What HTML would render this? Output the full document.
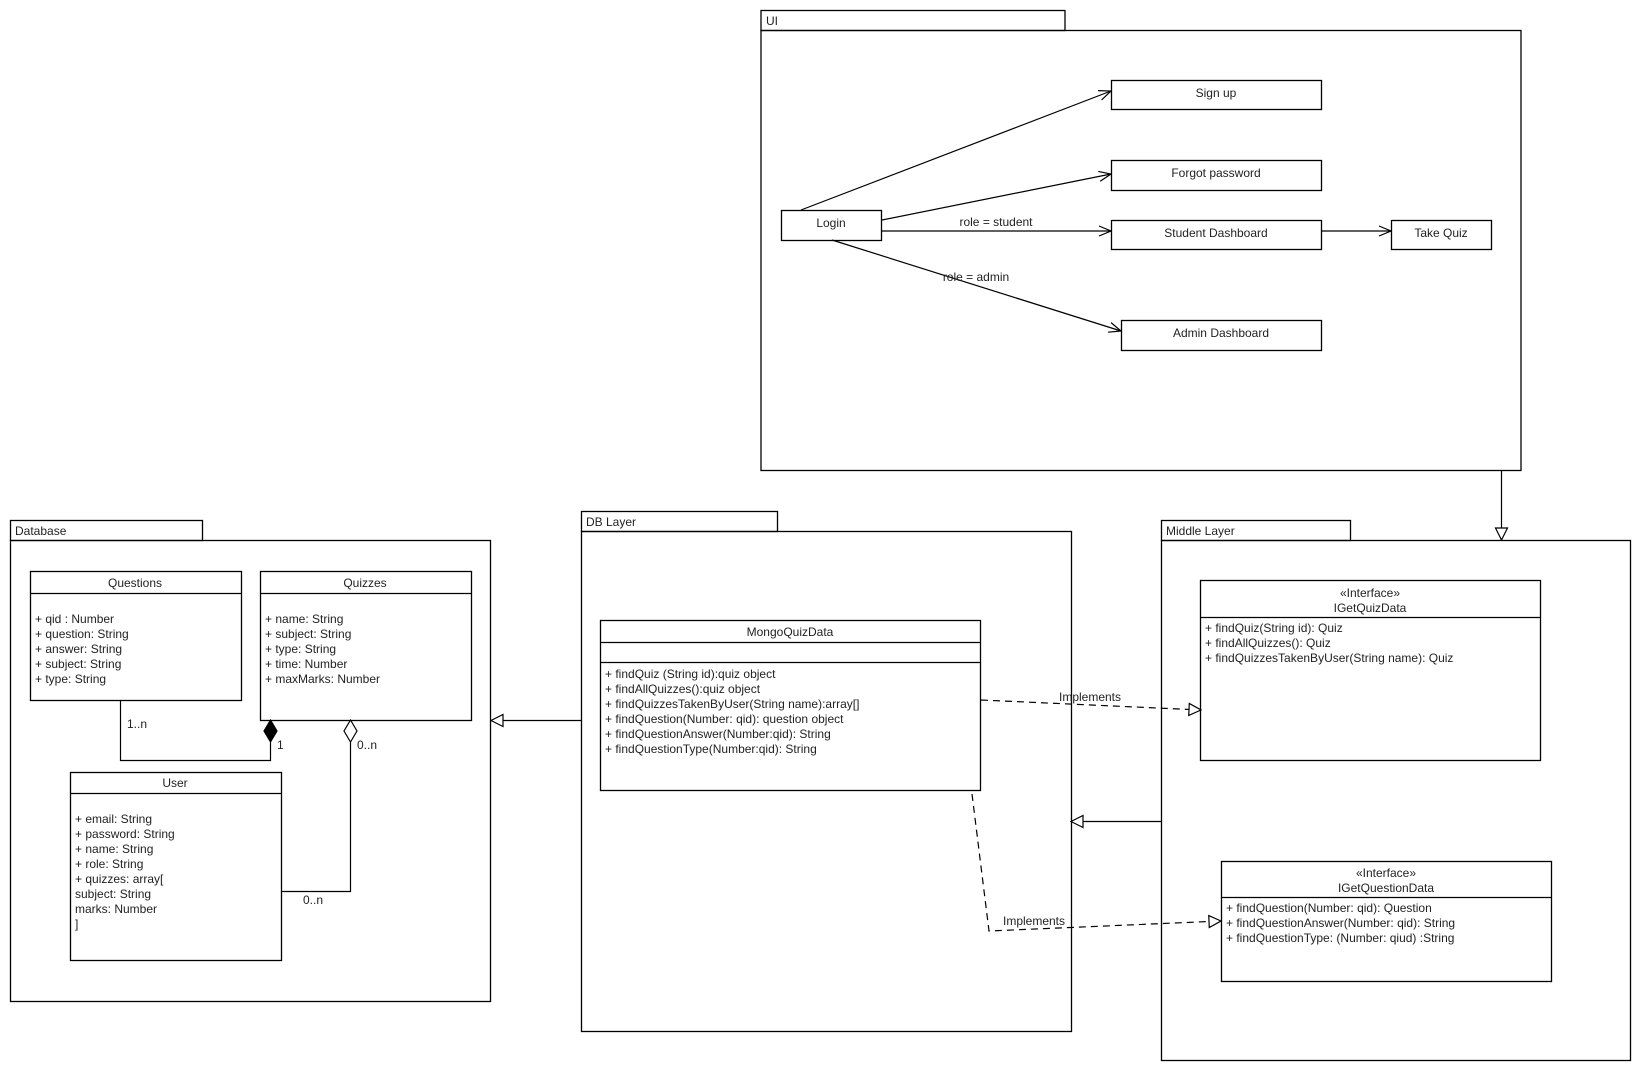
<!DOCTYPE html>
<html><head><meta charset="utf-8"><style>
html,body{margin:0;padding:0;background:#fff;}
svg{display:block;}
text{font-family:"Liberation Sans",sans-serif;font-size:12px;fill:#222;}
</style></head><body>
<svg width="1640" height="1070" viewBox="0 0 1640 1070" xmlns="http://www.w3.org/2000/svg">
<defs>
<marker id="open" markerWidth="14" markerHeight="12" refX="13" refY="6" orient="auto" markerUnits="userSpaceOnUse"><path d="M1,1 L13,6 L1,11" fill="none" stroke="#000" stroke-width="1.2"/></marker>
<marker id="tri" markerWidth="14" markerHeight="14" refX="13" refY="7" orient="auto" markerUnits="userSpaceOnUse"><path d="M1,1 L13,7 L1,13 Z" fill="#fff" stroke="#000" stroke-width="1.2"/></marker>
</defs>
<g fill="none" stroke="#000" stroke-width="1.3">
<!-- UI package -->
<rect x="761" y="10.5" width="304" height="20"/>
<rect x="761" y="30.5" width="760" height="440"/>
<!-- Database package -->
<rect x="10.5" y="520.5" width="192" height="20"/>
<rect x="10.5" y="540.5" width="480" height="461"/>
<!-- DB layer -->
<rect x="581.5" y="511.5" width="196" height="20"/>
<rect x="581.5" y="531.5" width="490" height="500"/>
<!-- Middle layer -->
<rect x="1161.5" y="520.5" width="189" height="20"/>
<rect x="1161.5" y="540.5" width="469" height="520"/>
<!-- UI boxes -->
<rect x="1111.5" y="80.5" width="210" height="29"/>
<rect x="1111.5" y="160.5" width="210" height="30"/>
<rect x="781.5" y="210.5" width="100" height="30"/>
<rect x="1111.5" y="220.5" width="210" height="29"/>
<rect x="1391.5" y="220.5" width="100" height="29"/>
<rect x="1121.5" y="320.5" width="200" height="30"/>
<!-- classes -->
<rect x="30.5" y="571.5" width="211" height="129"/><line x1="30" y1="593.5" x2="241" y2="593.5"/>
<rect x="260.5" y="571.5" width="211" height="149"/><line x1="260" y1="593.5" x2="471" y2="593.5"/>
<rect x="70.5" y="772.5" width="211" height="188"/><line x1="70" y1="793.5" x2="281" y2="793.5"/>
<rect x="600.5" y="620.5" width="380" height="170"/><line x1="600" y1="642.5" x2="981" y2="642.5"/><line x1="600" y1="662.5" x2="981" y2="662.5"/>
<rect x="1200.5" y="580.5" width="340" height="180"/><line x1="1200" y1="617.5" x2="1541" y2="617.5"/>
<rect x="1221.5" y="861.5" width="330" height="120"/><line x1="1221" y1="897.5" x2="1552" y2="897.5"/>
</g>
<g fill="none" stroke="#000" stroke-width="1.2">
<!-- UI arrows -->
<line x1="801" y1="210" x2="1111" y2="91" marker-end="url(#open)"/>
<line x1="882" y1="220" x2="1111" y2="174" marker-end="url(#open)"/>
<line x1="882" y1="231" x2="1111" y2="231" marker-end="url(#open)"/>
<line x1="832" y1="240" x2="1121" y2="331" marker-end="url(#open)"/>
<line x1="1321" y1="231" x2="1391" y2="231" marker-end="url(#open)"/>
<!-- generalizations -->
<line x1="1501.5" y1="471" x2="1501.5" y2="540" marker-end="url(#tri)"/>
<line x1="581" y1="720.5" x2="491" y2="720.5" marker-end="url(#tri)"/>
<line x1="1161" y1="821.5" x2="1071" y2="821.5" marker-end="url(#tri)"/>
<!-- implements -->
<polyline points="981,700 1201,710" stroke-dasharray="7,5" marker-end="url(#tri)"/>
<polyline points="972,794 989,931 1221,921" stroke-dasharray="7,5" marker-end="url(#tri)"/>
<!-- composition -->
<polyline points="120.5,700 120.5,760.5 270.5,760.5 270.5,742"/>
<path d="M270.5,720 L277,731 L270.5,742 L264,731 Z" fill="#000"/>
<!-- aggregation -->
<polyline points="350.5,742 350.5,891.5 281,891.5"/>
<path d="M350.5,720 L357,731 L350.5,742 L344,731 Z" fill="#fff"/>
</g>
<!-- package labels -->
<text x="766" y="25">UI</text>
<text x="15" y="535">Database</text>
<text x="586" y="526">DB Layer</text>
<text x="1166" y="535">Middle Layer</text>
<!-- UI labels -->
<g text-anchor="middle">
<text x="1216" y="97">Sign up</text>
<text x="1216" y="177">Forgot password</text>
<text x="831" y="227">Login</text>
<text x="1216" y="237">Student Dashboard</text>
<text x="1441" y="237">Take Quiz</text>
<text x="1221" y="337">Admin Dashboard</text>
<text x="996" y="226">role = student</text>
<text x="976" y="281">role = admin</text>
<text x="135" y="587">Questions</text>
<text x="365" y="587">Quizzes</text>
<text x="175" y="787">User</text>
<text x="790" y="636">MongoQuizData</text>
<text x="1370" y="597">«Interface»</text>
<text x="1370" y="612">IGetQuizData</text>
<text x="1386" y="877">«Interface»</text>
<text x="1386" y="892">IGetQuestionData</text>
<text x="1090" y="701">Implements</text>
<text x="1034" y="925">Implements</text>
</g>
<g>
<text x="35" y="623">+ qid : Number</text>
<text x="35" y="638">+ question: String</text>
<text x="35" y="653">+ answer: String</text>
<text x="35" y="668">+ subject: String</text>
<text x="35" y="683">+ type: String</text>
<text x="265" y="623">+ name: String</text>
<text x="265" y="638">+ subject: String</text>
<text x="265" y="653">+ type: String</text>
<text x="265" y="668">+ time: Number</text>
<text x="265" y="683">+ maxMarks: Number</text>
<text x="75" y="823">+ email: String</text>
<text x="75" y="838">+ password: String</text>
<text x="75" y="853">+ name: String</text>
<text x="75" y="868">+ role: String</text>
<text x="75" y="883">+ quizzes: array[</text>
<text x="75" y="898"> subject: String</text>
<text x="75" y="913"> marks: Number</text>
<text x="75" y="928">]</text>
<text x="605" y="678">+ findQuiz (String id):quiz object</text>
<text x="605" y="693">+ findAllQuizzes():quiz object</text>
<text x="605" y="708">+ findQuizzesTakenByUser(String name):array[]</text>
<text x="605" y="723">+ findQuestion(Number: qid): question object</text>
<text x="605" y="738">+ findQuestionAnswer(Number:qid): String</text>
<text x="605" y="753">+ findQuestionType(Number:qid): String</text>
<text x="1205" y="632">+ findQuiz(String id): Quiz</text>
<text x="1205" y="647">+ findAllQuizzes(): Quiz</text>
<text x="1205" y="662">+ findQuizzesTakenByUser(String name): Quiz</text>
<text x="1226" y="912">+ findQuestion(Number: qid): Question</text>
<text x="1226" y="927">+ findQuestionAnswer(Number: qid): String</text>
<text x="1226" y="942">+ findQuestionType: (Number: qiud) :String</text>
<text x="127" y="728">1..n</text>
<text x="277" y="749">1</text>
<text x="357" y="749">0..n</text>
<text x="303" y="904">0..n</text>
</g>
</svg>
</body></html>
